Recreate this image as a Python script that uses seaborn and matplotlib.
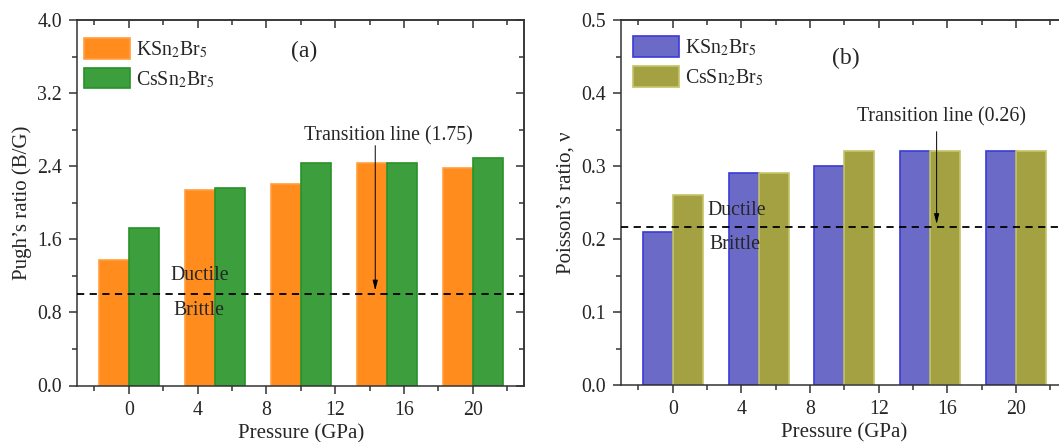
import numpy as np
import pandas as pd
import matplotlib
matplotlib.use("Agg")
import matplotlib.pyplot as plt
import seaborn as sns

# ---------------- data ----------------
pressure = [0, 5, 10, 15, 20]
compounds = ["KSn$_2$Br$_5$", "CsSn$_2$Br$_5$"]
pugh_k = [1.375, 2.14, 2.20, 2.44, 2.385]
pugh_cs = [1.725, 2.16, 2.43, 2.44, 2.49]
poisson_k = [0.21, 0.29, 0.30, 0.32, 0.32]
poisson_cs = [0.26, 0.29, 0.32, 0.32, 0.32]
xticks = [0, 4, 8, 12, 16, 20]
pugh_line = 1.0
poisson_line = 0.216

sns.set_style("ticks")
plt.rcParams["font.family"] = ["Liberation Serif", "DejaVu Serif"]
plt.rcParams["mathtext.fontset"] = "stix"

fig = plt.figure(figsize=(10.59, 4.42), dpi=100)
ax_a = fig.add_axes([77.3 / 1059, 1 - 385.5 / 442, 447 / 1059, 365.5 / 442])
ax_b = fig.add_axes([621.3 / 1059, 1 - 385.0 / 442, 446.3 / 1059, 365.0 / 442])

spine_col = "#333333"


def make_df(k, cs):
    return pd.DataFrame({
        "Pressure": pressure * 2,
        "value": list(k) + list(cs),
        "Compound": [compounds[0]] * len(k) + [compounds[1]] * len(cs),
    })


def panel(ax, k, cs, fills, edges, ylim, ymajor, yminor, ylabel, yfmt,
          hline, trans_text, trans_xy, arrow_x, arrow_y0, arrow_y1,
          duct_xy, brit_xy, tag, tag_xy, leg_anchor):
    df = make_df(k, cs)
    sns.barplot(data=df, x="Pressure", y="value", hue="Compound",
                hue_order=compounds, palette=fills, native_scale=True,
                width=0.7, errorbar=None, legend=False, ax=ax,
                saturation=1, linewidth=1.2)
    for cont, ec in zip(ax.containers, edges):
        for p in cont:
            p.set_edgecolor(ec)
            p.set_linewidth(1.2)
    ax.set_xlim(-3, 23)
    ax.set_ylim(*ylim)
    ax.set_xticks(xticks)
    ax.set_xticks([-2, 2, 6, 10, 14, 18, 22], minor=True)
    ax.set_yticks(ymajor)
    ax.set_yticks(yminor, minor=True)
    ax.set_yticklabels([yfmt.format(v) for v in ymajor])
    ax.tick_params(axis="both", which="major", direction="out", length=6,
                   width=1.1, labelsize=14.3, color=spine_col, pad=5)
    ax.tick_params(axis="both", which="minor", direction="out", length=3.5,
                   width=1.1, color=spine_col)
    for s in ax.spines.values():
        s.set_visible(True)
        s.set_color(spine_col)
        s.set_linewidth(1.1)
    # mirrored inward ticks on top and right
    top = ax.secondary_xaxis("top")
    top.set_xticks(xticks)
    top.set_xticks([-2, 2, 6, 10, 14, 18, 22], minor=True)
    top.tick_params(which="major", direction="in", length=6, width=1.1,
                    labeltop=False, color=spine_col)
    top.tick_params(which="minor", direction="in", length=3.5, width=1.1,
                    color=spine_col)
    top.spines["top"].set_color(spine_col)
    top.spines["top"].set_linewidth(1.1)
    right = ax.secondary_yaxis("right")
    right.set_yticks(ymajor)
    right.set_yticks(yminor, minor=True)
    right.tick_params(which="major", direction="in", length=6, width=1.1,
                      labelright=False, color=spine_col)
    right.tick_params(which="minor", direction="in", length=3.5, width=1.1,
                      color=spine_col)
    right.spines["right"].set_color(spine_col)
    right.spines["right"].set_linewidth(1.1)

    ax.set_xlabel("Pressure (GPa)", fontsize=15, labelpad=3)
    ax.set_ylabel(ylabel, fontsize=15, labelpad=4)

    ax.axhline(hline, color="black", lw=1.3, ls=(0, (4, 3)), zorder=5)
    ax.text(trans_xy[0], trans_xy[1], trans_text, fontsize=14.3,
            ha="center", va="center")
    ax.annotate("", xy=(arrow_x, arrow_y1), xytext=(arrow_x, arrow_y0),
                arrowprops=dict(arrowstyle="-|>,head_length=0.6,head_width=0.15",
                                color="black", lw=0.7, mutation_scale=10,
                                shrinkA=0, shrinkB=0), zorder=6)
    ax.text(duct_xy[0], duct_xy[1], "Ductile", fontsize=14.3, ha="center",
            va="center", zorder=7)
    ax.text(brit_xy[0], brit_xy[1], "Brittle", fontsize=14.3, ha="center",
            va="center", zorder=7)
    ax.text(tag_xy[0], tag_xy[1], tag, fontsize=17, ha="center", va="center")

    leg = ax.legend(handles=list(ax.containers), labels=compounds,
                    loc="upper left", bbox_to_anchor=leg_anchor,
                    frameon=False, fontsize=14.3, handlelength=2.3,
                    handleheight=1.2, handletextpad=0.3, labelspacing=0.4,
                    borderpad=0, borderaxespad=0)
    return leg


panel(ax_a, pugh_k, pugh_cs, ["#FF8C1C", "#3C9E3C"], ["#FFA040", "#279127"],
      (0, 4.0), [0.0, 0.8, 1.6, 2.4, 3.2, 4.0],
      [0.4, 1.2, 2.0, 2.8, 3.6], "Pugh\u2019s ratio (B/G)", "{:.1f}",
      pugh_line, "Transition line (1.75)", (15.1, 2.735), 14.33, 2.625, 1.04,
      (4.11, 1.203), (4.09, 0.82), "(a)", (10.2, 3.66), (0.015, 0.95))

panel(ax_b, poisson_k, poisson_cs, ["#6B6BC7", "#A3A142"], ["#3A3AD8", "#C4C46A"],
      (0, 0.5), [0.0, 0.1, 0.2, 0.3, 0.4, 0.5],
      [0.05, 0.15, 0.25, 0.35, 0.45], "Poisson\u2019s ratio, \u03bd", "{:.1f}",
      poisson_line, "Transition line (0.26)", (15.64, 0.3675), 15.37, 0.347, 0.2205,
      (3.72, 0.2397), (3.62, 0.1918), "(b)", (10.1, 0.447), (0.027, 0.955))

fig.savefig("out.png", dpi=100)
